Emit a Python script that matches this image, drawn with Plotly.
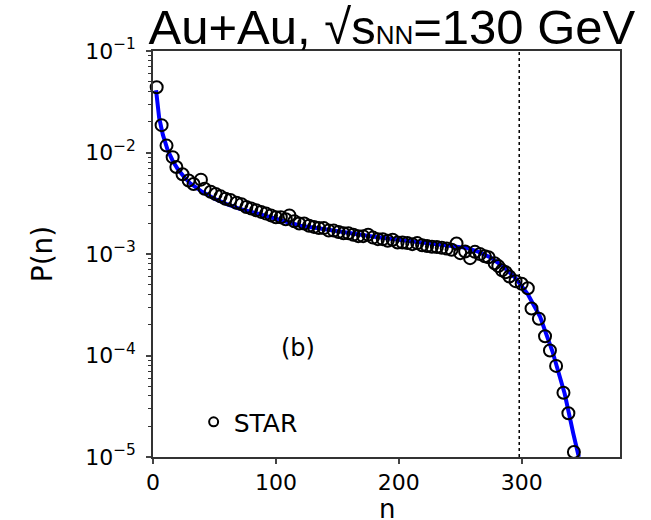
import plotly.graph_objects as go

# STAR data points (n, P(n))
star_n = [3, 7, 11, 16, 19, 24, 29, 33, 39, 42, 47, 51, 55, 59, 63, 68, 72, 76, 80, 84,
          88, 92, 96, 100, 104, 108, 111, 115, 119, 123, 127, 131, 135, 139, 143, 147, 151,
          155, 159, 163, 167, 171, 175, 179, 183, 187, 191, 195, 199, 203, 207, 211, 215,
          219, 223, 227, 231, 235, 239, 243, 247, 250, 254, 258, 262, 266, 270, 273, 278,
          281, 284, 287, 290, 295, 300, 305, 308, 314, 319, 323, 328, 334, 338, 342.5]
star_p = [0.044, 0.0186, 0.0117, 0.0090, 0.0072, 0.0061, 0.0053, 0.0049, 0.0054, 0.0044,
          0.0041, 0.0039, 0.0037, 0.0035, 0.0034, 0.0032, 0.0031, 0.0029, 0.0028, 0.0027,
          0.0026, 0.0025, 0.0024, 0.0023, 0.0023, 0.0022, 0.0024, 0.0021, 0.0020, 0.0020,
          0.0019, 0.00185, 0.0018, 0.0018, 0.0017, 0.0017, 0.00165, 0.0016, 0.0016, 0.00155,
          0.0015, 0.0015, 0.00155, 0.00145, 0.0014, 0.0014, 0.00135, 0.00138, 0.0013, 0.0013,
          0.00128, 0.00125, 0.00128, 0.00122, 0.0012, 0.00118, 0.00117, 0.00115, 0.00113,
          0.0011, 0.00127, 0.00102, 0.00106, 0.00091, 0.00105, 0.00100, 0.00095, 0.00093,
          0.00081, 0.00076, 0.00069, 0.00066, 0.00060, 0.00054, 0.00051, 0.00046, 0.00029,
          0.00023, 0.000155, 0.000112, 0.000079, 0.000043, 0.000027, 0.0000112]

# fit curve (n, P(n))
fit_n = [2.5, 5, 8, 12, 16, 20, 25, 30, 40, 50, 60, 70, 80, 100, 120, 140, 160, 180, 200,
         220, 240, 255, 265, 275, 285, 295, 305, 315, 325, 335, 342, 346.5]
fit_p = [0.041, 0.022, 0.015, 0.0105, 0.0083, 0.0069, 0.0058, 0.0050, 0.0041, 0.0035,
         0.0031, 0.0028, 0.0026, 0.0022, 0.0019, 0.00175, 0.00160, 0.00148, 0.00138,
         0.00130, 0.00122, 0.00115, 0.00105, 0.00092, 0.00075, 0.00058, 0.00040, 0.00024,
         0.00011, 0.000042, 0.000017, 0.00001]

vline_n = 298
y_ticks = [1e-5, 1e-4, 1e-3, 1e-2, 1e-1]
y_ticktext = ["10<sup>\u22125</sup>", "10<sup>\u22124</sup>", "10<sup>\u22123</sup>",
              "10<sup>\u22122</sup>", "10<sup>\u22121</sup>"]
y_minor = [m * d for d in [1e-5, 1e-4, 1e-3, 1e-2] for m in range(2, 10)]
x_ticks = [0, 100, 200, 300]

FONT = "DejaVu Sans"

fig = go.Figure()
fig.add_trace(go.Scatter(x=fit_n, y=fit_p, mode="lines",
                         line=dict(color="#0000ff", width=4), showlegend=False))
fig.add_trace(go.Scatter(x=star_n, y=star_p, mode="markers",
                         marker=dict(symbol="circle-open", size=12, color="black",
                                     line=dict(width=2, color="black")),
                         showlegend=False, cliponaxis=False))
fig.add_trace(go.Scatter(x=[None], y=[None], mode="markers", name="STAR",
                         marker=dict(symbol="circle-open", size=9, color="black",
                                     line=dict(width=2, color="black"))))
fig.add_trace(go.Scatter(x=[vline_n, vline_n], y=[1e-5, 1e-1], mode="lines",
                         line=dict(color="black", width=1.5, dash="dot"), showlegend=False))

fig.update_layout(
    width=651, height=520,
    margin=dict(l=153, r=31, t=51, b=63),
    paper_bgcolor="white", plot_bgcolor="white",
    font=dict(family=FONT, color="black", size=22),
    title=dict(text="Au+Au, \u221as<span style='font-size:26px'>NN</span>=130 GeV",
               font=dict(family="Liberation Sans", size=49, color="black"),
               xref="container", yref="container", x=0.602, xanchor="center",
               y=0.948, yanchor="middle", automargin=False),
    legend=dict(x=0.087, y=0.086, xanchor="left", yanchor="middle",
                bgcolor="rgba(0,0,0,0)", font=dict(family=FONT, size=25)),
    annotations=[
        dict(text="(b)", x=118, y=-3.93, xref="x", yref="y", showarrow=False,
             font=dict(family=FONT, size=24)),
        dict(text="n", x=0.5, y=-0.127, xref="paper", yref="paper", showarrow=False,
             xanchor="center", yanchor="middle", font=dict(family=FONT, size=26)),
    ],
)
fig.update_xaxes(range=[0, 380], tickvals=x_ticks, ticks="outside", ticklen=5,
                 tickwidth=1.5, showline=True, linecolor="#333", linewidth=1.5, mirror=True,
                 showgrid=False, zeroline=False, tickfont=dict(size=22), automargin=False)
fig.update_yaxes(type="log", range=[-5, -1], tickvals=y_ticks, ticktext=y_ticktext,
                 ticks="outside", ticklen=5, tickwidth=1.5, showline=True, linecolor="#333",
                 linewidth=1.5, mirror=True, showgrid=False, zeroline=False,
                 ticklabelstandoff=6, tickfont=dict(size=22), automargin=False,
                 minor=dict(tickvals=y_minor, ticks="outside", ticklen=3, tickwidth=1,
                            tickcolor="#333", showgrid=False),
                 title=dict(text="P(n)", font=dict(size=28), standoff=24))

fig.write_html("out.html")
